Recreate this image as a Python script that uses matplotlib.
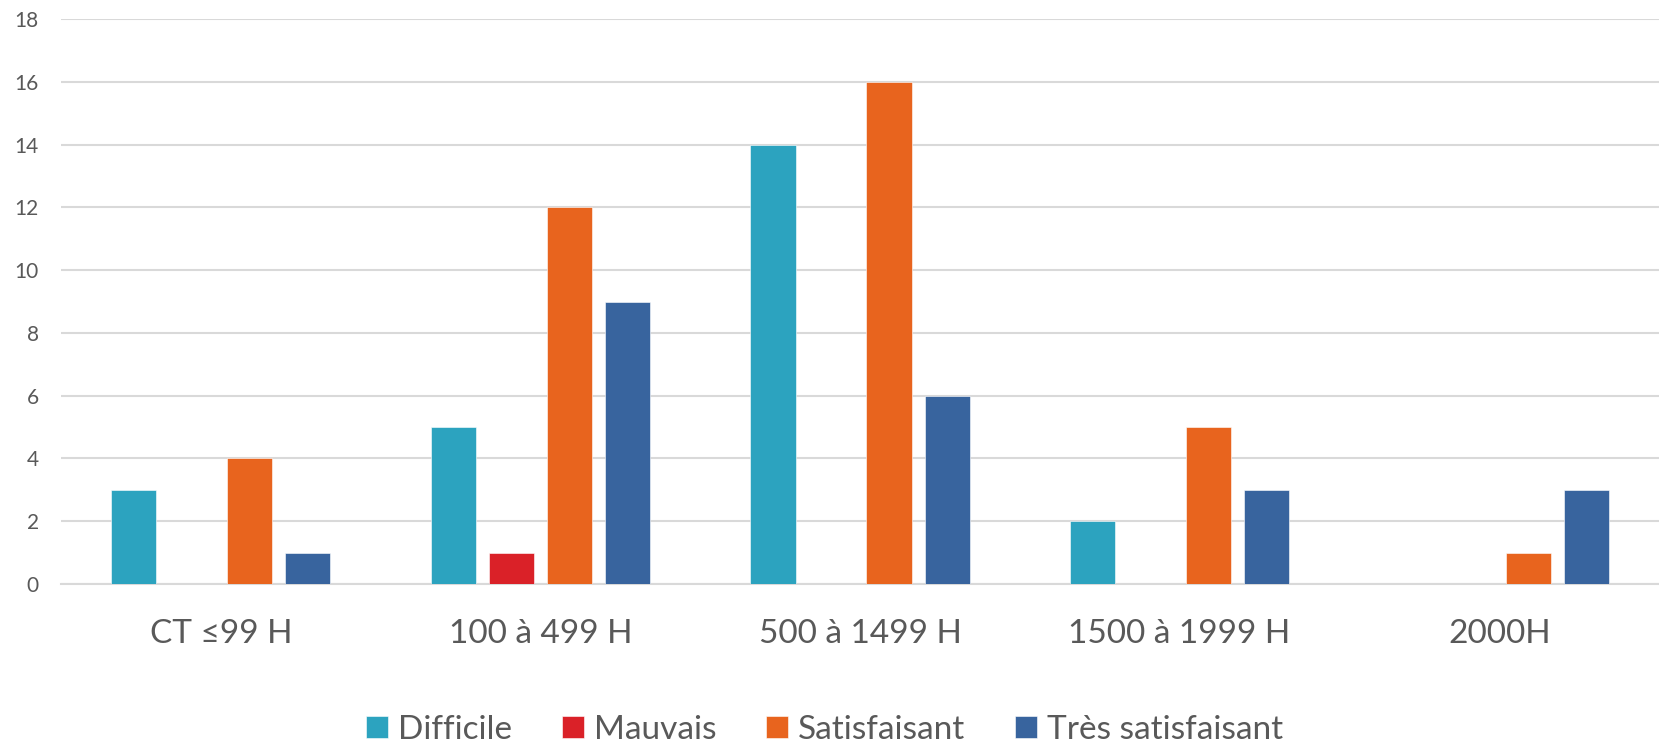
import numpy as np
import matplotlib
matplotlib.use("Agg")
from matplotlib import pyplot as plt

# data
categories = ["CT ≤99 H", "100 à 499 H", "500 à 1499 H", "1500 à 1999 H", "2000H"]
series_names = ["Difficile", "Mauvais", "Satisfaisant", "Très satisfaisant"]
difficile = [3, 5, 14, 2, 0]
mauvais = [0, 1, 0, 0, 0]
satisfaisant = [4, 12, 16, 5, 1]
tres_satisfaisant = [1, 9, 6, 3, 3]
colors = ["#2CA3BF", "#DA2128", "#E8641E", "#38649E"]

plt.rcParams['font.family'] = ['Lato', 'DejaVu Sans']

fig = plt.figure(figsize=(16.59, 7.5), dpi=100)
ax = fig.add_axes([0.0368, 0.2213, 0.9632, 0.7534])

x = np.arange(len(categories))
slot = 0.1815
width = 0.141
all_series = [difficile, mauvais, satisfaisant, tres_satisfaisant]
for i, (name, vals) in enumerate(zip(series_names, all_series)):
    offs = (i - 1.5) * slot
    ax.bar(x + offs, vals, width, color=colors[i], label=name,
           edgecolor="white", linewidth=0.4, zorder=3)

ax.set_xlim(-0.5, len(categories) - 0.5)
ax.set_ylim(0, 18)
ax.set_yticks(range(0, 19, 2))
ax.set_xticks(x)
ax.set_xticklabels(categories)
ax.yaxis.grid(True, color="#D9D9D9", linewidth=1.5, zorder=0)
ax.set_axisbelow(True)
for s in ["top", "right", "left"]:
    ax.spines[s].set_visible(False)
ax.spines["bottom"].set_color("#D9D9D9")
ax.spines["bottom"].set_linewidth(1.5)
ax.tick_params(axis="y", length=0, pad=16, labelsize=15, labelcolor="#595959")
ax.tick_params(axis="x", length=0, pad=25, labelsize=24, labelcolor="#595959")

leg = fig.legend(loc="center", bbox_to_anchor=(0.497, 0.027), ncol=4, frameon=False,
                 fontsize=24, handlelength=0.65, handleheight=0.65, handletextpad=0.3,
                 columnspacing=1.5, labelcolor="#595959")

fig.savefig("out.png", dpi=100)
